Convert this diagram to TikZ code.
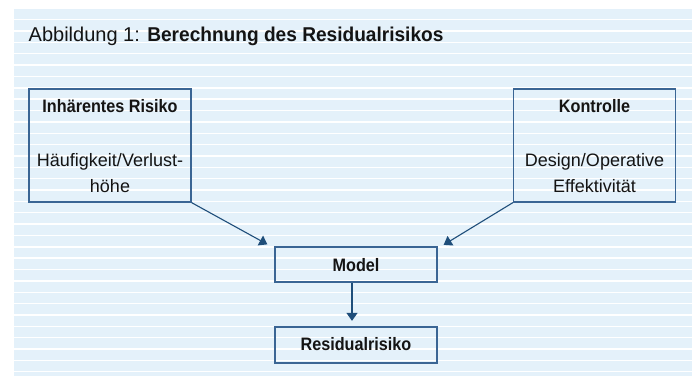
\documentclass[tikz,border=0pt]{standalone}
\usepackage{fontspec}
\setmainfont{Liberation Sans}[BoldFeatures={FakeStretch=0.9}]
\newfontfamily\titlebold{Liberation Sans Bold}[FakeStretch=0.955]
\usetikzlibrary{arrows.meta,calc}
\definecolor{bgblue}{HTML}{E4F1FA}
\definecolor{boxline}{HTML}{3A6594}
\definecolor{arrline}{HTML}{1F4E7A}
\definecolor{txtcol}{HTML}{141414}
\begin{document}
\begin{tikzpicture}[x=1pt,y=-1pt,
  box/.style={draw=boxline, line width=1.3pt, rectangle, inner sep=0pt},
  txt/.style={inner sep=0pt, anchor=base, text=txtcol, font=\fontsize{18}{22}\selectfont},
  arr/.style={draw=arrline, line width=1.1pt, -{Triangle[length=8pt,width=11pt]}}]
\useasboundingbox (0,0) rectangle (692,376);
\fill[bgblue] (14,9) rectangle (692,376);
\foreach \k in {0,...,31} \draw[white, line width=1.4pt] (14,{19.7+\k*11.355}) -- (692,{19.7+\k*11.355});
\node[inner sep=0pt, anchor=base west, text=txtcol, font=\fontsize{20}{24}\selectfont] (title) at (28.5,41) {Abbildung 1: {\titlebold Berechnung des Residualrisikos}};
% boxes
\node[box, minimum width=162pt, minimum height=113pt] (inh) at (110,145.5) {};
\node[box, minimum width=162pt, minimum height=113pt] (ctrl) at (594.5,145.5) {};
\node[box, minimum width=162pt, minimum height=35pt] (model) at (356,264.5) {};
\node[box, minimum width=162pt, minimum height=36pt] (res) at (356,345) {};
% texts
\node[txt] (inhA) at (110,112.5) {\textbf{Inhärentes Risiko}};
\node[txt] (inhB) at (110,166.5) {Häufigkeit/Verlust-};
\node[txt] (inhC) at (110,192) {höhe};
\node[txt] (ctrlA) at (594.5,112.5) {\textbf{Kontrolle}};
\node[txt] (ctrlB) at (594.5,166.5) {Design/Operative};
\node[txt] (ctrlC) at (594.5,192) {Effektivität};
\node[txt] (modelA) at (356,271) {\textbf{Model}};
\node[txt] (resA) at (356,350.7) {\textbf{Residualrisiko}};
% connectors
\coordinate (tipL) at ($(model.north west)+(-7,-2)$);
\coordinate (tipR) at ($(model.north east)+(6,-1.5)$);
\coordinate (mS) at ($(model.south)+(-4,0)$);
\coordinate (tipD) at ($(res.north)+(-4,-5.5)$);
\draw[arr] (inh.south east) -- (tipL);
\draw[arr] (ctrl.south west) -- (tipR);
\draw[arr] (mS) -- (tipD);
\end{tikzpicture}
\end{document}
